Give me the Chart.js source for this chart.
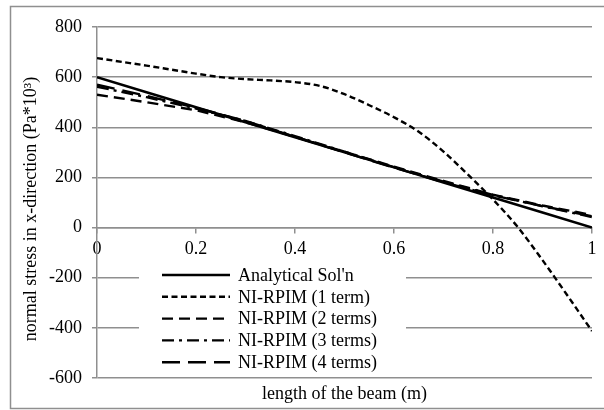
<!DOCTYPE html>
<html>
<head>
<meta charset="utf-8">
<script src="https://cdn.jsdelivr.net/npm/chart.js@4.4.0/dist/chart.umd.min.js"></script>
<style>
  body { margin: 0; background: #fff; }
</style>
</head>
<body>
<canvas id="myChart" width="604" height="410"></canvas>
<script>
// x positions (beam length, m)
const xFine = [0, 0.05, 0.1, 0.15, 0.2, 0.25, 0.3, 0.35, 0.4, 0.45, 0.5,
               0.55, 0.6, 0.65, 0.7, 0.75, 0.8, 0.85, 0.9, 0.95, 1];
const xCoarse = [0, 0.1, 0.2, 0.3, 0.4, 0.5, 0.6, 0.7, 0.8, 0.9, 1];

// stress values (Pa*10^3)
const analytical = [600, 540, 480, 420, 360, 300, 240, 180, 120, 60, 0];
const oneTerm    = [676, 661, 646, 630, 614, 600, 592, 587, 580, 565, 532,
                    488, 440, 382, 303, 210, 112, 2, -130, -270, -413];
const twoTerms   = [530, 500, 468, 420, 362, 302, 243, 186, 131, 88, 50];
const threeTerms = [562, 520, 475, 425, 365, 303, 241, 183, 130, 85, 42];
const fourTerms  = [570, 525, 478, 425, 362, 300, 239, 181, 128, 86, 45];

const seriesNames = ["Analytical Sol'n", 'NI-RPIM (1 term)', 'NI-RPIM (2 terms)',
                     'NI-RPIM (3 terms)', 'NI-RPIM (4 terms)'];
const yTicks = [-600, -400, -200, 0, 200, 400, 600, 800];
const yTitle = 'normal stress in x-direction (Pa*10\u00b3)';

const GRID = '#8f8f8f';
const FONT = "18px 'Liberation Serif', serif";
const toPts = (xs, ys) => xs.map((x, i) => ({ x: x, y: ys[i] }));

Chart.defaults.font.family = "'Liberation Serif', 'Times New Roman', serif";
Chart.defaults.font.size = 18;
Chart.defaults.color = '#000';

// legend inside the plot on a white box, y title, outer frame
const innerLegend = {
  id: 'innerLegend',
  afterDraw(chart) {
    const c = chart.ctx;
    c.save();
    c.fillStyle = '#fff';
    c.fillRect(139, 263, 267, 109);
    chart.data.datasets.forEach((ds, i) => {
      const y = 275 + i * 21.8;
      c.strokeStyle = '#000';
      c.lineWidth = ds.borderWidth;
      c.setLineDash(ds.borderDash || []);
      c.beginPath();
      c.moveTo(162, y);
      c.lineTo(230, y);
      c.stroke();
      c.setLineDash([]);
      c.fillStyle = '#000';
      c.font = FONT;
      c.textBaseline = 'middle';
      c.fillText(ds.label, 238, y + 1);
    });
    // y axis title
    c.translate(31, 209);
    c.rotate(-Math.PI / 2);
    c.textAlign = 'center';
    c.textBaseline = 'middle';
    c.fillText(yTitle, 0, 0);
    c.setTransform(1, 0, 0, 1, 0, 0);
    // outer frame
    c.strokeStyle = GRID;
    c.lineWidth = 1.5;
    c.strokeRect(10.5, 6.5, 600, 402);
    c.restore();
  }
};

const ctx = document.getElementById('myChart');
const myChart = new Chart(ctx, {
  type: 'line',
  data: {
    datasets: [
      { label: seriesNames[0], data: toPts(xCoarse, analytical), borderWidth: 2.5 },
      { label: seriesNames[1], data: toPts(xFine, oneTerm), borderDash: [6, 3.5], cubicInterpolationMode: 'monotone' },
      { label: seriesNames[2], data: toPts(xCoarse, twoTerms), borderDash: [11, 6] },
      { label: seriesNames[3], data: toPts(xCoarse, threeTerms), borderDash: [12, 5, 3, 5] },
      { label: seriesNames[4], data: toPts(xCoarse, fourTerms), borderDash: [18, 8] }
    ].map(d => Object.assign({ borderColor: '#000', borderWidth: 2.4, pointRadius: 0, fill: false }, d))
  },
  options: {
    responsive: false,
    animation: false,
    layout: { padding: { left: 0, right: 12, top: 27, bottom: 0 } },
    plugins: { legend: { display: false }, tooltip: { enabled: false } },
    scales: {
      x: {
        type: 'linear',
        position: { y: 0 },
        min: 0, max: 1,
        ticks: {
          stepSize: 0.2, autoSkip: false, maxRotation: 0, padding: 6,
          callback: v => String(Number(v.toFixed(1)))
        },
        grid: { drawOnChartArea: false, drawTicks: true, tickLength: 5, color: GRID, lineWidth: 1.5 },
        border: { color: GRID, width: 1.5 }
      },
      x2: {
        type: 'linear',
        position: 'bottom',
        min: 0, max: 1,
        ticks: { display: false },
        grid: { display: false },
        border: { display: false },
        title: { display: true, text: 'length of the beam (m)', padding: { top: 0, bottom: 5 } },
        afterFit: s => { s.height = 32; }
      },
      y: {
        min: -600, max: 800,
        afterBuildTicks: s => { s.ticks = yTicks.map(v => ({ value: v })); },
        ticks: { padding: 10 },
        grid: { color: GRID, lineWidth: 1.5, tickLength: 5 },
        border: { color: GRID, width: 1.5 },
        afterFit: s => { s.width = 97; }
      }
    }
  },
  plugins: [innerLegend]
});
</script>
</body>
</html>
